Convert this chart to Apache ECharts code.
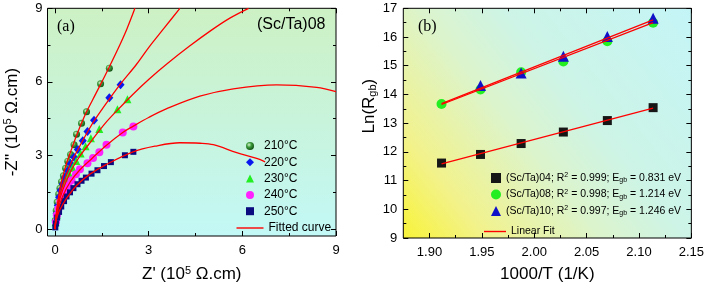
<!DOCTYPE html>
<html><head><meta charset="utf-8">
<script src="https://cdn.jsdelivr.net/npm/echarts@6/dist/echarts.min.js"></script>
<style>html,body{margin:0;padding:0;background:#fff}#c{width:707px;height:288px}</style>
</head><body><div id="c"></div>
<script>
// ---------- Panel (a): impedance spectra of (Sc/Ta)08 ----------
const tempLabels = ['210°C', '220°C', '230°C', '240°C', '250°C'];
const x210 = [0.01,0.04,0.07,0.12,0.16,0.21,0.27,0.34,0.41,0.50,0.61,0.69,0.85,1.01,1.46,1.74];
const y210 = [0.36,0.76,1.10,1.43,1.67,1.93,2.17,2.48,2.77,3.04,3.44,3.87,4.31,4.78,5.92,6.56];
const x220 = [0.02,0.05,0.09,0.13,0.18,0.25,0.32,0.41,0.50,0.61,0.73,0.89,1.04,1.25,1.74,2.10];
const y220 = [0.29,0.63,0.96,1.30,1.57,1.84,2.10,2.37,2.66,2.93,3.24,3.60,3.98,4.44,5.35,5.88];
const x230 = [0.02,0.05,0.10,0.15,0.22,0.29,0.37,0.46,0.56,0.68,0.82,0.98,1.15,1.42,2.00,2.32];
const y230 = [0.28,0.58,0.90,1.18,1.46,1.72,1.98,2.24,2.50,2.78,3.08,3.38,3.70,4.08,4.89,5.29];
const x240 = [0.03,0.06,0.11,0.17,0.25,0.32,0.43,0.53,0.67,0.80,1.04,1.22,1.42,1.65,2.17,2.51];
const y240 = [0.29,0.56,0.83,1.10,1.34,1.57,1.79,1.99,2.24,2.44,2.68,2.90,3.13,3.44,3.94,4.18];
const x250 = [0.01,0.03,0.07,0.13,0.20,0.29,0.37,0.48,0.59,0.72,0.85,0.99,1.17,1.36,1.57,1.79,2.24,2.51];
const y250 = [0.07,0.23,0.47,0.70,0.92,1.14,1.33,1.50,1.67,1.83,1.97,2.10,2.26,2.40,2.57,2.73,3.01,3.15];

// fitted curves [Z', -Z'']
const fit210 = [[0,0],[0.03,0.5],[0.1,1.2],[0.2,1.9],[0.35,2.6],[0.5,3.15],[0.7,3.85],[1.0,4.75],[1.3,5.5],[1.6,6.25],[2.0,7.3],[2.3,8.15],[2.56,9.0]];
const fit220 = [[0,0],[0.03,0.45],[0.1,1.05],[0.25,1.8],[0.5,2.65],[0.8,3.4],[1.05,3.98],[1.3,4.5],[1.74,5.3],[2.1,5.92],[2.6,6.7],[3.0,7.4],[3.5,8.2],[4.0,9.0]];
const fit230 = [[0,0],[0.03,0.4],[0.1,0.95],[0.25,1.6],[0.5,2.35],[0.8,2.98],[1.2,3.65],[1.6,4.3],[2.0,4.85],[2.5,5.5],[3.0,6.1],[3.6,6.75],[4.3,7.45],[5.0,8.1],[5.6,8.6],[6.2,9.0]];
const fit240 = [[0,0],[0.03,0.35],[0.1,0.8],[0.25,1.35],[0.5,1.95],[0.8,2.42],[1.2,2.9],[1.65,3.42],[2.17,3.94],[2.51,4.2],[3.0,4.55],[3.58,4.91],[4.64,5.42],[5.71,5.72],[7.1,5.88],[8.38,5.78],[9.0,5.6]];
const fit250 = [[0,0],[0.03,0.3],[0.08,0.55],[0.16,0.8],[0.37,1.25],[0.69,1.78],[1.12,2.24],[1.65,2.64],[2.5,3.15],[3.2,3.38],[4.0,3.52],[4.65,3.5],[5.07,3.44],[5.82,3.12],[6.46,2.88],[6.73,2.74]];

const aTicksMajor = [0, 3, 6, 9];
const aTicksMinor = [1.5, 4.5, 7.5];

// ---------- Panel (b): Arrhenius plot ----------
const invT = [1.9115, 1.9487, 1.9875, 2.0278, 2.0698, 2.1135];
const sampleNames = ['(Sc/Ta)04', '(Sc/Ta)08', '(Sc/Ta)10'];
const r2Values = ['0.999', '0.998', '0.997'];
const egbValues = ['0.831', '1.214', '1.246'];
const ln04 = [11.61, 11.91, 12.29, 12.69, 13.09, 13.54];
const ln08 = [13.67, 14.17, 14.77, 15.15, 15.85, 16.50];
const ln10 = [null, 14.31, 14.75, 15.33, 16.02, 16.65];
const fitInvT = [1.9115, 2.1135];
const fitLn04 = [11.58, 13.52];
const fitLn08 = [13.65, 16.50];
const fitLn10 = [13.68, 16.60];

const bXMajor = [1.90, 1.95, 2.00, 2.05, 2.10, 2.15];
const bXMinor = [1.925, 1.975, 2.025, 2.075, 2.125];
const bYMajor = [9, 10, 11, 12, 13, 14, 15, 16, 17];
const bYMinor = [9.5, 10.5, 11.5, 12.5, 13.5, 14.5, 15.5, 16.5];

// ---------- helpers ----------
const FONT = 'Liberation Sans, Arial, sans-serif';
const pair = (xs, ys) => xs.map((x, i) => [x, ys[i]]);

function makeAxes(dim, grid, min, max, majors, minors, fmt, nameCfg, margin) {
  const base = {type: 'value', gridIndex: grid, min: min, max: max, splitLine: {show: false},
    axisLine: {show: false, onZero: false}};
  const posMain = dim === 'x' ? 'bottom' : 'left';
  const posOpp = dim === 'x' ? 'top' : 'right';
  const tick = (vals, len) => ({show: true, inside: true, length: len, customValues: vals,
    lineStyle: {color: '#000', width: 1}});
  return [
    Object.assign({}, base, nameCfg, {position: posMain, axisTick: tick(majors, 5),
      axisLabel: {show: true, customValues: majors, formatter: fmt, color: '#000',
        fontSize: 13, fontFamily: FONT, margin: margin}}),
    Object.assign({}, base, {position: posMain, axisTick: tick(minors, 3), axisLabel: {show: false}}),
    Object.assign({}, base, {position: posOpp, axisTick: tick(majors, 5), axisLabel: {show: false}}),
    Object.assign({}, base, {position: posOpp, axisTick: tick(minors, 3), axisLabel: {show: false}})
  ];
}

const nameStyle = (extra) => Object.assign({color: '#000', fontSize: 17, fontFamily: FONT, rich: {
  sup: {fontSize: 11, fontFamily: FONT, color: '#000', padding: [0, 0, 8, 0]},
  sub: {fontSize: 11, fontFamily: FONT, color: '#000', padding: [8, 0, 0, 0]}
}}, extra || {});

const xAxes = [].concat(
  makeAxes('x', 0, -0.24, 9, aTicksMajor, aTicksMinor, v => String(v),
    {name: "Z' (10{sup|5} Ω.cm)", nameLocation: 'middle', nameGap: 29, nameTextStyle: nameStyle()}, 8),
  makeAxes('x', 1, 1.875, 2.15, bXMajor, bXMinor, v => v.toFixed(2),
    {name: '1000/T (1/K)', nameLocation: 'middle', nameGap: 28, nameTextStyle: nameStyle()}, 8)
);
const yAxes = [].concat(
  makeAxes('y', 0, -0.281, 9, aTicksMajor, aTicksMinor, v => String(v),
    {name: "-Z'' (10{sup|5} Ω.cm)", nameLocation: 'middle', nameGap: 26, nameTextStyle: nameStyle()}, 5),
  makeAxes('y', 1, 9, 17, bYMajor, bYMinor, v => String(v),
    {name: 'Ln(R{sub|gb})', nameLocation: 'middle', nameGap: 23, nameTextStyle: nameStyle({padding: [0, 0, 0, 34]})}, 6)
);

const redLine = {color: '#ff0000', width: 1.3};
const fitSeriesA = [fit210, fit220, fit230, fit240, fit250].map(d => ({
  type: 'line', name: 'Fitted curve', xAxisIndex: 0, yAxisIndex: 0, data: d, symbol: 'none',
  smooth: 0.35, lineStyle: redLine, itemStyle: {color: '#ff0000'}, z: 4, clip: true
}));

const sphere = {type: 'radial', x: 0.38, y: 0.35, r: 0.65, colorStops: [
  {offset: 0, color: '#d8f5d0'}, {offset: 0.45, color: '#3c9c3c'}, {offset: 1, color: '#145414'}]};

const aStyles = [
  {sym: 'circle', size: 7, color: sphere},
  {sym: 'diamond', size: [8, 9], color: '#0a18f0'},
  {sym: 'triangle', size: 8, color: '#22ee22'},
  {sym: 'circle', size: 8, color: '#ff22ff'},
  {sym: 'rect', size: 6, color: '#0c0c80'}
];
const aData = [pair(x210, y210), pair(x220, y220), pair(x230, y230), pair(x240, y240), pair(x250, y250)];
const scatterA = aStyles.map((s, i) => ({
  type: 'scatter', name: tempLabels[i], xAxisIndex: 0, yAxisIndex: 0, data: aData[i],
  symbol: s.sym, symbolSize: s.size, itemStyle: {color: s.color, opacity: 1}, z: 3
}));

const lnSets = [ln04, ln08, ln10];
const fitSets = [fitLn04, fitLn08, fitLn10];
const bStyles = [
  {sym: 'rect', size: 9, color: '#161616'},
  {sym: 'circle', size: 10, color: '#22ee22'},
  {sym: 'triangle', size: 11, color: '#1010c8'}
];
const scatterB = sampleNames.map((n, i) => ({
  type: 'scatter', name: n, xAxisIndex: 4, yAxisIndex: 4,
  data: invT.map((x, j) => lnSets[i][j] == null ? null : [x, lnSets[i][j]]).filter(p => p),
  symbol: bStyles[i].sym, symbolSize: bStyles[i].size,
  itemStyle: {color: bStyles[i].color, opacity: 1}, z: 3
}));
const fitSeriesB = fitSets.map(f => ({
  type: 'line', name: 'Linear Fit', xAxisIndex: 4, yAxisIndex: 4, data: pair(fitInvT, f),
  symbol: 'none', lineStyle: redLine, itemStyle: {color: '#ff0000'}, z: 4
}));

const bgA = {type: 'linear', x: 0, y: 0, x2: 0, y2: 1, colorStops: [
  {offset: 0, color: '#cdf1c4'}, {offset: 0.5, color: '#c8f4dc'}, {offset: 1, color: '#c2f8f6'}]};
const bgB = {type: 'linear', x: 0, y: 1, x2: 1, y2: 0, colorStops: [
  {offset: 0, color: '#f8f338'}, {offset: 0.18, color: '#f2f28c'}, {offset: 0.42, color: '#dcf4cc'},
  {offset: 0.6, color: '#cdf4e6'}, {offset: 1, color: '#c4f5f7'}]};

const legendBText = {fontFamily: FONT, fontSize: 10.5, color: '#000', lineHeight: 12, rich: {
  sup: {fontSize: 7, fontFamily: FONT, color: '#000', padding: [0, 0, 5, 0]},
  sub: {fontSize: 7, fontFamily: FONT, color: '#000', padding: [5, 0, 0, 0]}
}};
const lineIcon = 'path://M0,0L27,0L27,1.4L0,1.4Z';

const chart = echarts.init(document.getElementById('c'), null, {renderer: 'canvas'});
chart.setOption({
  animation: false,
  backgroundColor: '#ffffff',
  title: [
    {text: '(a)', left: 57, top: 19, padding: 0, textStyle: {fontFamily: 'Liberation Serif, Times New Roman, serif', fontSize: 16, fontWeight: 'normal', color: '#000'}},
    {text: '(Sc/Ta)08', left: 257, top: 17, padding: 0, textStyle: {fontFamily: FONT, fontSize: 16, fontWeight: 'normal', color: '#000'}},
    {text: '(b)', left: 418, top: 19, padding: 0, textStyle: {fontFamily: 'Liberation Serif, Times New Roman, serif', fontSize: 16, fontWeight: 'normal', color: '#000'}}
  ],
  grid: [
    {left: 47.5, top: 8.3, width: 288.5, height: 231, show: true, borderColor: '#000', borderWidth: 1, backgroundColor: bgA, containLabel: false},
    {left: 403.3, top: 8.3, width: 288.5, height: 231, show: true, borderColor: '#000', borderWidth: 1, backgroundColor: bgB, containLabel: false}
  ],
  xAxis: xAxes,
  yAxis: yAxes,
  legend: [
    {data: tempLabels, orient: 'vertical', left: 246, top: 140, padding: 0,
     itemWidth: 8, itemHeight: 8, itemGap: 4.3, selectedMode: false,
     textStyle: {fontFamily: FONT, fontSize: 12, color: '#000', padding: [0, 0, 0, 5]}},
    {data: [{name: 'Fitted curve', icon: lineIcon, itemStyle: {color: '#ff0000'}}], orient: 'vertical',
     left: 236.5, top: 222, padding: 0, itemWidth: 27, itemHeight: 1.4, selectedMode: false,
     textStyle: {fontFamily: FONT, fontSize: 12, color: '#000'}},
    {data: sampleNames, orient: 'vertical', left: 491, top: 172, padding: 0,
     itemWidth: 10, itemHeight: 10, itemGap: 4.5, selectedMode: false,
     formatter: function (name) {
       const i = sampleNames.indexOf(name);
       return name + '; R{sup|2} = ' + r2Values[i] + '; E{sub|gb} = ' + egbValues[i] + ' eV';
     },
     textStyle: legendBText},
    {data: [{name: 'Linear Fit', icon: 'path://M0,0L22,0L22,1.4L0,1.4Z', itemStyle: {color: '#ff0000'}}], orient: 'vertical',
     left: 484, top: 226, padding: 0, itemWidth: 22, itemHeight: 1.4, selectedMode: false,
     textStyle: {fontFamily: FONT, fontSize: 10.5, color: '#000'}}
  ],
  series: [].concat(scatterA, fitSeriesA, scatterB, fitSeriesB)
});
</script>
</body></html>
